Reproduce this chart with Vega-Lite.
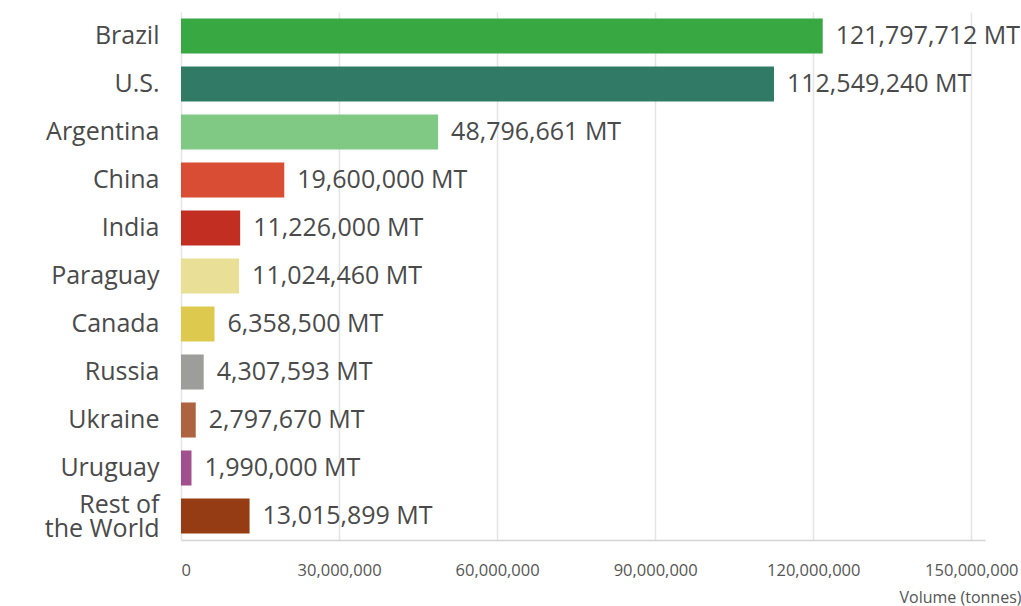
{
  "$schema": "https://vega.github.io/schema/vega-lite/v6.json",
  "width": 804,
  "height": 528,
  "autosize": "none",
  "padding": {"left": 181, "top": 12, "right": 36, "bottom": 66},
  "background": "white",
  "config": {"view": {"stroke": null}, "font": "Open Sans"},
  "data": {"values": [
    {"country": "Brazil", "volume": 121797712, "label": "121,797,712 MT", "color": "#38a843"},
    {"country": "U.S.", "volume": 112549240, "label": "112,549,240 MT", "color": "#317a66"},
    {"country": "Argentina", "volume": 48796661, "label": "48,796,661 MT", "color": "#80c985"},
    {"country": "China", "volume": 19600000, "label": "19,600,000 MT", "color": "#d84d33"},
    {"country": "India", "volume": 11226000, "label": "11,226,000 MT", "color": "#c22e22"},
    {"country": "Paraguay", "volume": 11024460, "label": "11,024,460 MT", "color": "#e9df97"},
    {"country": "Canada", "volume": 6358500, "label": "6,358,500 MT", "color": "#dcc94e"},
    {"country": "Russia", "volume": 4307593, "label": "4,307,593 MT", "color": "#9d9d9b"},
    {"country": "Ukraine", "volume": 2797670, "label": "2,797,670 MT", "color": "#ad6240"},
    {"country": "Uruguay", "volume": 1990000, "label": "1,990,000 MT", "color": "#a24f8d"},
    {"country": "Rest of the World", "volume": 13015899, "label": "13,015,899 MT", "color": "#963c14"}
  ]},
  "encoding": {
    "y": {
      "field": "country", "type": "nominal", "sort": null,
      "scale": {"paddingInner": 0.27, "paddingOuter": 0.135},
      "axis": {
        "title": null, "ticks": false, "domain": false, "labelPadding": 22,
        "labelFontSize": 25, "labelColor": "#4a4a4a", "labelLineHeight": 24,
        "labelOffset": {"condition": {"test": "datum.label == 'Rest of the World'", "value": -11}, "value": 0},
        "labelExpr": "datum.label == 'Rest of the World' ? ['Rest of', 'the World'] : datum.label"
      }
    },
    "x": {
      "field": "volume", "type": "quantitative",
      "scale": {"domain": [0, 152600000], "nice": false},
      "axis": {
        "values": [0, 30000000, 60000000, 90000000, 120000000, 150000000],
        "format": ",.0f", "title": "Volume (tonnes)", "ticks": false,
        "domainColor": "#d4d4d4", "domainWidth": 1.5,
        "gridColor": "#e4e4e4", "gridWidth": 1.5,
        "labelFontSize": 16.5, "labelColor": "#555555", "labelPadding": 22,
        "titleFontSize": 16, "titleFontWeight": "normal", "titleColor": "#555555",
        "titleAnchor": "end", "titleAlign": "right", "titleX": 840, "titleY": 49
      }
    }
  },
  "layer": [
    {"mark": {"type": "bar"}, "encoding": {"color": {"field": "color", "type": "nominal", "scale": null}}},
    {"mark": {"type": "text", "align": "left", "dx": 13, "fontSize": 25, "color": "#4a4a4a"},
     "encoding": {"text": {"field": "label", "type": "nominal"}}}
  ]
}
